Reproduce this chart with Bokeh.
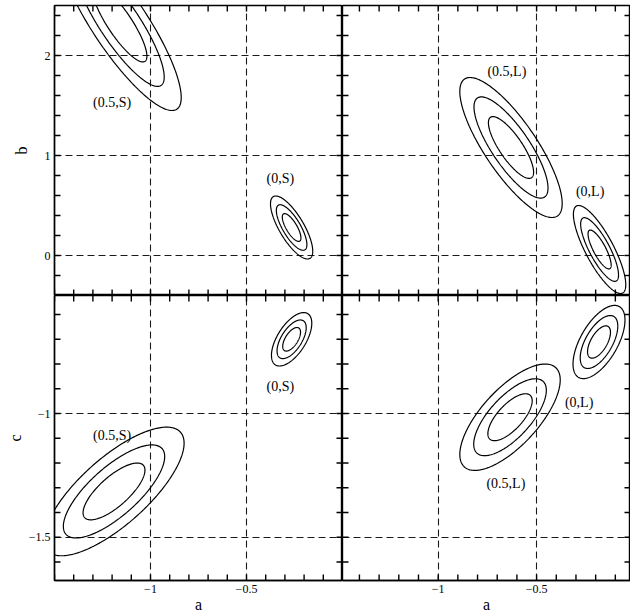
import numpy as np
from bokeh.plotting import figure
from bokeh.layouts import column, row
from bokeh.models import Range1d, FixedTicker, ColumnDataSource
from bokeh.embed import file_html
from bokeh.resources import INLINE
from bokeh.core.properties import value

FONT = "Liberation Serif"
TICK_PX = 6

# Delta chi^2 of the three nested contours (68.3%, 95.4%, 99.73%, two parameters)
DCHI2 = [2.30, 6.17, 11.8]

# ---- ticks -------------------------------------------------------------
A_MAJOR = [-1.0, -0.5]
A_LABELS = ["\u22121", "\u22120.5"]
A_TICKS = [-1.5, -1.4, -1.3, -1.2, -1.1, -1.0, -0.9, -0.8, -0.7, -0.6,
           -0.5, -0.4, -0.3, -0.2, -0.1, 0.0]
B_MAJOR = [0.0, 1.0, 2.0]
B_LABELS = ["0", "1", "2"]
B_TICKS = [-0.4, -0.2, 0.0, 0.2, 0.4, 0.6, 0.8, 1.0, 1.2, 1.4, 1.6, 1.8,
           2.0, 2.2, 2.4]
C_MAJOR = [-1.5, -1.0]
C_LABELS = ["\u22121.5", "\u22121"]
C_TICKS = [-1.6, -1.5, -1.4, -1.3, -1.2, -1.1, -1.0, -0.9, -0.8, -0.7, -0.6]

# ---- contour groups (centre, outer half-extents, correlation) -----------
# panel (a, b), S models
AB_S_NAMES = ["(0.5,S)", "(0,S)"]
AB_S_CX = [-1.16, -0.265]
AB_S_CY = [2.32, 0.28]
AB_S_HX = [0.32, 0.11]
AB_S_HY = [0.87, 0.315]
AB_S_RHO = [-0.85, -0.75]
AB_S_LX = [-1.20, -0.324]
AB_S_LY = [1.53, 0.773]

# panel (a, b), L models
AB_L_NAMES = ["(0.5,L)", "(0,L)"]
AB_L_CX = [-0.63, -0.18]
AB_L_CY = [1.08, 0.06]
AB_L_HX = [0.26, 0.133]
AB_L_HY = [0.70, 0.44]
AB_L_RHO = [-0.8, -0.8]
AB_L_LX = [-0.651, -0.228]
AB_L_LY = [1.84, 0.643]

# panel (a, c), S models
AC_S_NAMES = ["(0.5,S)", "(0,S)"]
AC_S_CX = [-1.19, -0.265]
AC_S_CY = [-1.315, -0.70]
AC_S_HX = [0.365, 0.105]
AC_S_HY = [0.26, 0.108]
AC_S_RHO = [0.75, 0.6]
AC_S_LX = [-1.20, -0.324]
AC_S_LY = [-1.089, -0.890]

# panel (a, c), L models
AC_L_NAMES = ["(0.5,L)", "(0,L)"]
AC_L_CX = [-0.635, -0.183]
AC_L_CY = [-1.015, -0.711]
AC_L_HX = [0.255, 0.132]
AC_L_HY = [0.215, 0.148]
AC_L_RHO = [0.7, 0.6]
AC_L_LX = [-0.656, -0.284]
AC_L_LY = [-1.284, -0.954]


def contours(cx, cy, hx, hy, rho):
    xs, ys = [], []
    t = np.linspace(0, 2 * np.pi, 240)
    kmax = np.sqrt(DCHI2[-1])
    for x0, y0, ex, ey, r in zip(cx, cy, hx, hy, rho):
        sx, sy = ex / kmax, ey / kmax
        for d2 in DCHI2:
            k = np.sqrt(d2)
            u = np.cos(t)
            v = r * np.cos(t) + np.sqrt(1 - r * r) * np.sin(t)
            xs.append(list(x0 + k * sx * u))
            ys.append(list(y0 + k * sy * v))
    return xs, ys


def style_axis(ax, major, labels, label, label_standoff):
    ax.ticker = FixedTicker(ticks=major, minor_ticks=[])
    ax.major_label_overrides = dict(zip(major, labels))
    ax.major_label_text_font = FONT
    ax.major_label_text_font_size = "12px"
    ax.major_label_text_color = "black"
    ax.major_label_standoff = 4
    ax.major_tick_in = 0
    ax.major_tick_out = 0
    ax.minor_tick_in = 0
    ax.minor_tick_out = 0
    ax.axis_line_color = "black"
    ax.axis_line_width = 1.4
    ax.axis_label = label
    ax.axis_label_text_font = FONT
    ax.axis_label_text_font_size = "16px"
    ax.axis_label_text_font_style = "normal"
    ax.axis_label_text_color = "black"
    ax.axis_label_standoff = label_standoff


def panel(xr, yr, w, h, bl, bt, bb, cx, cy, hx, hy, rho, lx, ly, names,
          ymajor, yticks, ylabels, ylabel, ylab_standoff, first_col, bottom_row):
    p = figure(width=w, height=h, x_range=Range1d(*xr), y_range=Range1d(*yr),
               output_backend="svg", toolbar_location=None,
               x_axis_location="below" if bottom_row else None,
               y_axis_location="left" if first_col else None,
               min_border_left=bl, min_border_right=0, min_border_top=bt,
               min_border_bottom=bb, outline_line_color="black",
               outline_line_width=1.4)
    p.xgrid.ticker = FixedTicker(ticks=A_MAJOR)
    p.ygrid.ticker = FixedTicker(ticks=ymajor)
    p.grid.grid_line_color = "#1a1a1a"
    p.grid.grid_line_dash = "7 4"
    p.grid.grid_line_width = 1.1
    if first_col:
        style_axis(p.yaxis[0], ymajor, ylabels, ylabel, ylab_standoff)
    if bottom_row:
        style_axis(p.xaxis[0], A_MAJOR, A_LABELS, "a", 0)

    # inward tick marks on all four frame edges, TICK_PX long on screen,
    # drawn as two-point lines
    fw, fh = w - bl, h - bt - bb
    dx = (xr[1] - xr[0]) / fw * TICK_PX
    dy = (yr[1] - yr[0]) / fh * TICK_PX
    xt = [t for t in A_TICKS if xr[0] <= t <= xr[1]]
    yt = [t for t in yticks if yr[0] <= t <= yr[1]]
    txs, tys = [], []
    for t in xt:
        txs.append([t, t]); tys.append([yr[0], yr[0] + dy])
        txs.append([t, t]); tys.append([yr[1], yr[1] - dy])
    for t in yt:
        txs.append([xr[0], xr[0] + dx]); tys.append([t, t])
        txs.append([xr[1], xr[1] - dx]); tys.append([t, t])

    xs, ys = contours(cx, cy, hx, hy, rho)
    p.multi_line(xs="xs", ys="ys", source=ColumnDataSource(dict(xs=xs, ys=ys)),
                 line_color="black", line_width=1.2)
    p.multi_line(xs="xs", ys="ys", source=ColumnDataSource(dict(xs=txs, ys=tys)),
                 line_color="black", line_width=1.4)
    p.text(x="x", y="y", text="t",
           source=ColumnDataSource(dict(x=lx, y=ly, t=names)),
           text_font=value(FONT), text_font_size="14px", text_color="black",
           text_align="center", text_baseline="middle")
    return p


LEFT_X = (-1.5, 0.0)
RIGHT_X = (-1.486, -0.023)
TOP_Y = (-0.4, 2.5)
BOT_Y = (-1.675, -0.523)

tl = panel(LEFT_X, TOP_Y, 342, 295, 54, 5, 0, AB_S_CX, AB_S_CY, AB_S_HX,
           AB_S_HY, AB_S_RHO, AB_S_LX, AB_S_LY, AB_S_NAMES, B_MAJOR, B_TICKS,
           B_LABELS, "b", 12, True, False)
tr = panel(RIGHT_X, TOP_Y, 288, 295, 0, 5, 0, AB_L_CX, AB_L_CY, AB_L_HX,
           AB_L_HY, AB_L_RHO, AB_L_LX, AB_L_LY, AB_L_NAMES, B_MAJOR, B_TICKS,
           None, None, 0, False, False)
bl = panel(LEFT_X, BOT_Y, 342, 320, 54, 0, 35, AC_S_CX, AC_S_CY, AC_S_HX,
           AC_S_HY, AC_S_RHO, AC_S_LX, AC_S_LY, AC_S_NAMES, C_MAJOR, C_TICKS,
           C_LABELS, "c", 2, True, True)
br = panel(RIGHT_X, BOT_Y, 288, 320, 0, 0, 35, AC_L_CX, AC_L_CY, AC_L_HX,
           AC_L_HY, AC_L_RHO, AC_L_LX, AC_L_LY, AC_L_NAMES, C_MAJOR, C_TICKS,
           None, None, 0, False, True)

layout = column(row(tl, tr), row(bl, br))

open("out.html", "w").write(file_html(layout, INLINE))
